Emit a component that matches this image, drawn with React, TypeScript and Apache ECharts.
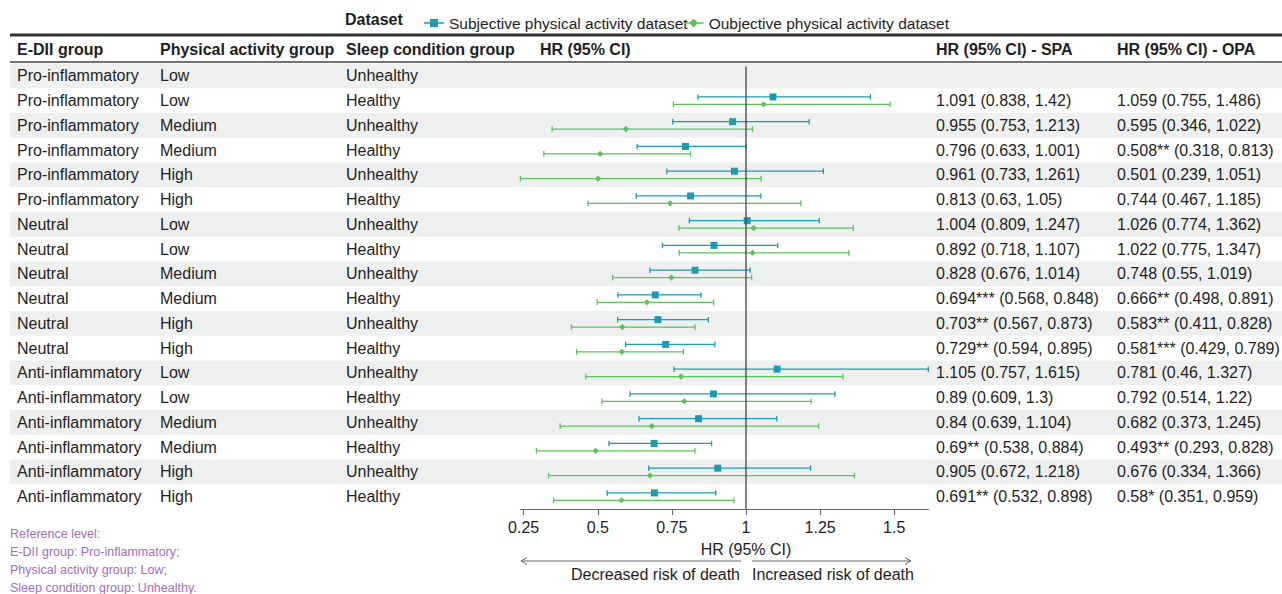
import React, { useEffect, useRef } from "react";
import * as echarts from "echarts";

const FONT = "'Liberation Sans', Arial, Helvetica, sans-serif";

const ediiGroup = [
  "Pro-inflammatory", "Pro-inflammatory", "Pro-inflammatory", "Pro-inflammatory", "Pro-inflammatory", "Pro-inflammatory",
  "Neutral", "Neutral", "Neutral", "Neutral", "Neutral", "Neutral",
  "Anti-inflammatory", "Anti-inflammatory", "Anti-inflammatory", "Anti-inflammatory", "Anti-inflammatory", "Anti-inflammatory",
];
const paGroup = [
  "Low", "Low", "Medium", "Medium", "High", "High",
  "Low", "Low", "Medium", "Medium", "High", "High",
  "Low", "Low", "Medium", "Medium", "High", "High",
];
const sleepGroup = [
  "Unhealthy", "Healthy", "Unhealthy", "Healthy", "Unhealthy", "Healthy",
  "Unhealthy", "Healthy", "Unhealthy", "Healthy", "Unhealthy", "Healthy",
  "Unhealthy", "Healthy", "Unhealthy", "Healthy", "Unhealthy", "Healthy",
];

// Subjective physical activity dataset (SPA)
const spaHR = [null, 1.091, 0.955, 0.796, 0.961, 0.813, 1.004, 0.892, 0.828, 0.694, 0.703, 0.729, 1.105, 0.89, 0.84, 0.69, 0.905, 0.691];
const spaLo = [null, 0.838, 0.753, 0.633, 0.733, 0.63, 0.809, 0.718, 0.676, 0.568, 0.567, 0.594, 0.757, 0.609, 0.639, 0.538, 0.672, 0.532];
const spaHi = [null, 1.42, 1.213, 1.001, 1.261, 1.05, 1.247, 1.107, 1.014, 0.848, 0.873, 0.895, 1.615, 1.3, 1.104, 0.884, 1.218, 0.898];
const spaSig = ["", "", "", "", "", "", "", "", "", "***", "**", "**", "", "", "", "**", "", "**"];

// Objective physical activity dataset (OPA)
const opaHR = [null, 1.059, 0.595, 0.508, 0.501, 0.744, 1.026, 1.022, 0.748, 0.666, 0.583, 0.581, 0.781, 0.792, 0.682, 0.493, 0.676, 0.58];
const opaLo = [null, 0.755, 0.346, 0.318, 0.239, 0.467, 0.774, 0.775, 0.55, 0.498, 0.411, 0.429, 0.46, 0.514, 0.373, 0.293, 0.334, 0.351];
const opaHi = [null, 1.486, 1.022, 0.813, 1.051, 1.185, 1.362, 1.347, 1.019, 0.891, 0.828, 0.789, 1.327, 1.22, 1.245, 0.828, 1.366, 0.959];
const opaSig = ["", "", "", "**", "", "", "", "", "", "**", "**", "***", "", "", "", "**", "", "*"];

const tickValues = [0.25, 0.5, 0.75, 1, 1.25, 1.5];
const headers = ["E-DII group", "Physical activity group", "Sleep condition group", "HR (95% CI)", "HR (95% CI) - SPA", "HR (95% CI) - OPA"];
const notes = ["Reference level:", "E-DII group: Pro-inflammatory;", "Physical activity group: Low;", "Sleep condition group: Unhealthy."];
const seriesNames = ["Subjective physical activity dataset", "Oubjective physical activity dataset"];

const TEAL = "#1c9bb3";
const GREEN = "#5dc15d";
const TEXT = "#1e1e1e";
const PURPLE = "#a36cbf";

const colX = [17, 160, 346, 540, 936, 1117];

function fmt(hr: number | null, lo: number | null, hi: number | null, sig: string) {
  if (hr == null) return "";
  return `${hr}${sig} (${lo}, ${hi})`;
}

function barData(hr: (number | null)[], lo: (number | null)[], hi: (number | null)[]) {
  const out: number[][] = [];
  hr.forEach((v, i) => {
    if (v != null) out.push([i, v, lo[i] as number, hi[i] as number]);
  });
  return out;
}

function makeBarRender(offset: number, marker: "square" | "diamond") {
  return (params: any, api: any) => {
    const row = api.value(0);
    const pHr = api.coord([api.value(1), row]);
    const pLo = api.coord([api.value(2), row]);
    const pHi = api.coord([api.value(3), row]);
    const y = pHr[1] + offset;
    const color = api.visual("color");
    const ls = { stroke: color, lineWidth: 1.3 };
    const cap = 2.8;
    const children: any[] = [
      { type: "line", shape: { x1: pLo[0], y1: y, x2: pHi[0], y2: y }, style: ls },
      { type: "line", shape: { x1: pLo[0], y1: y - cap, x2: pLo[0], y2: y + cap }, style: ls },
      { type: "line", shape: { x1: pHi[0], y1: y - cap, x2: pHi[0], y2: y + cap }, style: ls },
    ];
    if (marker === "square") {
      const s = 7;
      children.push({ type: "rect", shape: { x: pHr[0] - s / 2, y: y - s / 2, width: s, height: s }, style: { fill: color } });
    } else {
      const r = 3.2;
      children.push({
        type: "polygon",
        shape: { points: [[pHr[0], y - r], [pHr[0] + r, y], [pHr[0], y + r], [pHr[0] - r, y]] },
        style: { fill: color },
      });
    }
    return { type: "group", children };
  };
}

export default function App() {
  const ref = useRef<HTMLDivElement>(null);

  useEffect(() => {
    if (!ref.current) return;
    const chart = echarts.init(ref.current, undefined, { renderer: "svg" });
    const rows = ediiGroup.map((_, i) => i);
    const stripeRows = rows.filter((i) => i % 2 === 0).map((i) => [1, i]);

    const txt = (x: number, y: number, text: string, extra: any = {}) => ({
      type: "text",
      x,
      y,
      silent: true,
      style: {
        text,
        fill: TEXT,
        fontSize: 16,
        fontFamily: FONT,
        verticalAlign: "middle",
        align: "left",
        ...extra,
      },
    });

    const graphic: any[] = [
      txt(345, 19, "Dataset", { fontWeight: "bold" }),
      { type: "line", silent: true, shape: { x1: 10, y1: 35, x2: 1282, y2: 35 }, style: { stroke: "#333", lineWidth: 3 } },
      { type: "line", silent: true, shape: { x1: 10, y1: 62, x2: 1282, y2: 62 }, style: { stroke: "#444", lineWidth: 1.5 } },
      ...headers.map((h, i) => txt(colX[i], 49, h, { fontWeight: "bold" })),
      txt(746, 549, "HR (95% CI)", { align: "center" }),
      txt(740, 574, "Decreased risk of death", { align: "right" }),
      txt(752, 574, "Increased risk of death", { align: "left" }),
      { type: "line", silent: true, shape: { x1: 521, y1: 561, x2: 741, y2: 561 }, style: { stroke: "#666", lineWidth: 1 } },
      { type: "polyline", silent: true, shape: { points: [[527, 557.5], [521, 561], [527, 564.5]] }, style: { stroke: "#666", lineWidth: 1, fill: null } },
      { type: "line", silent: true, shape: { x1: 752, y1: 561, x2: 911, y2: 561 }, style: { stroke: "#666", lineWidth: 1 } },
      { type: "polyline", silent: true, shape: { points: [[905, 557.5], [911, 561], [905, 564.5]] }, style: { stroke: "#666", lineWidth: 1, fill: null } },
      ...notes.map((n, i) => txt(10, 534 + i * 18, n, { fill: PURPLE, fontSize: 12.5 })),
    ];

    const option: any = {
      animation: false,
      backgroundColor: "#fff",
      textStyle: { fontFamily: FONT },
      legend: {
        left: 419,
        top: 10,
        itemWidth: 20,
        itemHeight: 10,
        itemGap: -4,
        textStyle: { fontSize: 15.5, color: TEXT, fontFamily: FONT },
        data: [
          { name: seriesNames[0], icon: "path://M0,4.3 L20,4.3 L20,5.7 L0,5.7 Z M6,1 L14,1 L14,9 L6,9 Z" },
          { name: seriesNames[1], icon: "path://M0,4.3 L20,4.3 L20,5.7 L0,5.7 Z M10,0.5 L14.5,5 L10,9.5 L5.5,5 Z" },
        ],
        selectedMode: false,
      },
      grid: { left: 520.4, right: 353.7, top: 63.5, bottom: 85 },
      xAxis: {
        type: "value",
        min: 0.239,
        max: 1.615,
        splitLine: { show: false },
        axisLine: { show: true, lineStyle: { color: "#666", width: 1.2 } },
        axisTick: { show: true, customValues: tickValues, length: 6, lineStyle: { color: "#666" } },
        axisLabel: { customValues: tickValues, fontSize: 16, color: TEXT, margin: 10, fontFamily: FONT },
      },
      yAxis: {
        type: "category",
        inverse: true,
        show: false,
        data: rows.map(String),
      },
      series: [
        {
          type: "custom",
          name: "stripes",
          z: 0,
          silent: true,
          encode: { x: 0, y: 1 },
          data: stripeRows,
          renderItem: (params: any, api: any) => {
            const p = api.coord([1, api.value(1)]);
            const h = api.size([0, 1])[1];
            return { type: "rect", shape: { x: 10, y: p[1] - h / 2, width: 1272, height: h }, style: { fill: "#eef0ef" } };
          },
        },
        {
          type: "custom",
          name: "table",
          z: 1,
          silent: true,
          encode: { x: 0, y: 1 },
          data: rows.map((i) => [1, i]),
          renderItem: (params: any, api: any) => {
            const i = params.dataIndex;
            const p = api.coord([1, api.value(1)]);
            const mk = (x: number, text: string) => ({
              type: "text",
              x,
              y: p[1],
              style: { text, fill: TEXT, fontSize: 16, fontFamily: FONT, verticalAlign: "middle", align: "left" },
            });
            return {
              type: "group",
              children: [
                mk(colX[0], ediiGroup[i]),
                mk(colX[1], paGroup[i]),
                mk(colX[2], sleepGroup[i]),
                mk(colX[4], fmt(spaHR[i], spaLo[i], spaHi[i], spaSig[i])),
                mk(colX[5], fmt(opaHR[i], opaLo[i], opaHi[i], opaSig[i])),
              ],
            };
          },
        },
        {
          type: "custom",
          name: seriesNames[0],
          z: 3,
          itemStyle: { color: TEAL },
          encode: { x: [1, 2, 3], y: 0 },
          data: barData(spaHR, spaLo, spaHi),
          renderItem: makeBarRender(-3.7, "square"),
        },
        {
          type: "custom",
          name: seriesNames[1],
          z: 3,
          itemStyle: { color: GREEN },
          encode: { x: [1, 2, 3], y: 0 },
          data: barData(opaHR, opaLo, opaHi),
          renderItem: makeBarRender(3.7, "diamond"),
        },
        {
          type: "custom",
          name: "refline",
          z: 4,
          silent: true,
          encode: { x: 0, y: 1 },
          data: [[1, 0]],
          renderItem: (params: any, api: any) => {
            const p = api.coord([api.value(0), 0]);
            const cs = params.coordSys;
            return {
              type: "line",
              shape: { x1: p[0], y1: cs.y + 3, x2: p[0], y2: cs.y + cs.height },
              style: { stroke: "#444", lineWidth: 1.3 },
            };
          },
        },
      ],
      graphic,
    };
    chart.setOption(option);
    return () => chart.dispose();
  }, []);

  return <div ref={ref} style={{ position: "fixed", left: 0, top: 0, width: 1282, height: 594 }} />;
}
